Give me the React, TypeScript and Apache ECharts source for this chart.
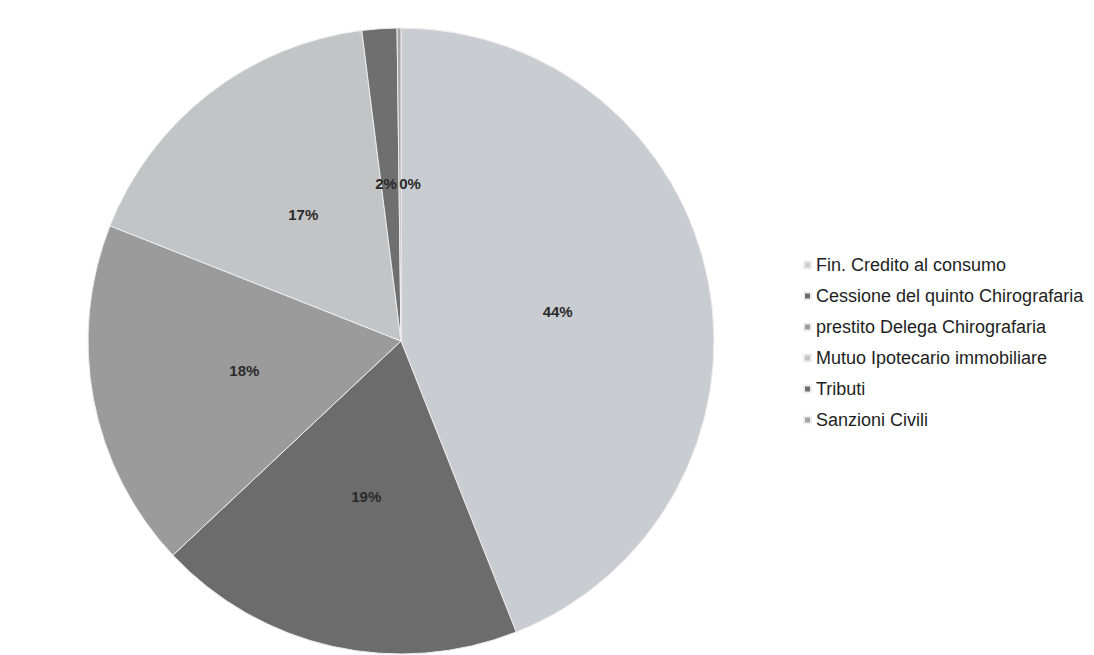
import React, { useEffect, useRef } from "react";
import * as echarts from "echarts";

const categories = [
  "Fin. Credito al consumo",
  "Cessione del quinto Chirografaria",
  "prestito Delega Chirografaria",
  "Mutuo Ipotecario immobiliare",
  "Tributi",
  "Sanzioni Civili",
];
const values = [44, 19, 18, 17, 1.8, 0.2];
const colors = ["#c9cdd1", "#6c6c6c", "#9b9b9b", "#c3c4c6", "#6f6f6f", "#a3a3a3"];

export default function App() {
  const ref = useRef<HTMLDivElement>(null);
  useEffect(() => {
    if (!ref.current) return;
    const chart = echarts.init(ref.current, undefined, { renderer: "svg" });
    const labelOffsets: Record<number, [number, number]> = {
      4: [-4, 2],
      5: [10, 2],
    };
    chart.setOption({
      animation: false,
      backgroundColor: "#ffffff",
      color: colors,
      legend: {
        orient: "vertical",
        left: 798,
        top: 251,
        itemWidth: 7,
        itemHeight: 7,
        itemGap: 13,
        icon: "rect",
        selectedMode: false,
        textStyle: {
          fontFamily: "Liberation Sans, Arial, sans-serif",
          fontSize: 18,
          color: "#1e1e1e",
        },
        data: categories,
      },
      series: [
        {
          type: "pie",
          center: [401, 341],
          radius: 313,
          startAngle: 90,
          clockwise: true,
          percentPrecision: 0,
          avoidLabelOverlap: false,
          minShowLabelAngle: 0,
          itemStyle: { borderColor: "#eeeeee", borderWidth: 1 },
          label: {
            show: true,
            position: "inside",
            formatter: "{d}%",
            fontFamily: "Liberation Sans, Arial, sans-serif",
            fontSize: 15,
            fontWeight: "bold",
            color: "#2a2a2a",
          },
          labelLine: { show: false },
          labelLayout: { hideOverlap: false },
          emphasis: { disabled: true },
          data: categories.map((name, i) => ({
            name,
            value: values[i],
            label: labelOffsets[i] ? { offset: labelOffsets[i] } : undefined,
          })),
        },
      ],
    });
    return () => chart.dispose();
  }, []);
  return (
    <div
      ref={ref}
      style={{ position: "fixed", left: 0, top: 0, width: 1094, height: 655 }}
    />
  );
}
